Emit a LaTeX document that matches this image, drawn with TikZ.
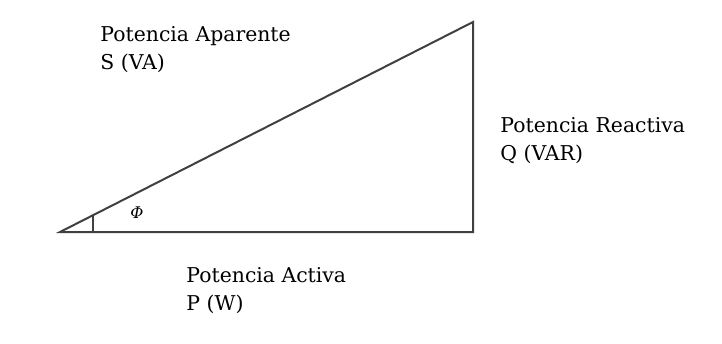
\documentclass[tikz,border=0pt]{standalone}
\usepackage{fontspec}
\setmainfont{DejaVu Serif}
\usetikzlibrary{calc,positioning}

\begin{document}
\begin{tikzpicture}[x=0.5pt,y=0.5pt,
  side/.style={draw=black!75,line width=1pt},
  label/.style={inner sep=0,anchor=base west,align=left,font=\fontsize{10.2}{14}\selectfont}]
\useasboundingbox (0,0) rectangle (722,343);
\coordinate (A) at (60,111);
\coordinate (B) at (473,111);
\coordinate (C) at (473,321);
\draw[side,line join=miter] (A) -- (B) -- (C) -- cycle;
\draw[side] ($ (A)!0.08!(B) $) -- ($ (A)!0.08!(C) $);
\node[font=\fontsize{8}{9}\selectfont\itshape] (phi) at (137,130) {Φ};
\node[label] (apar) at (100,273) {Potencia Aparente\\S (VA)};
\node[label] (reac) at (500,183) {Potencia Reactiva\\Q (VAR)};
\node[label] (activ) at (186,33) {Potencia Activa\\P (W)};
\end{tikzpicture}
\end{document}
